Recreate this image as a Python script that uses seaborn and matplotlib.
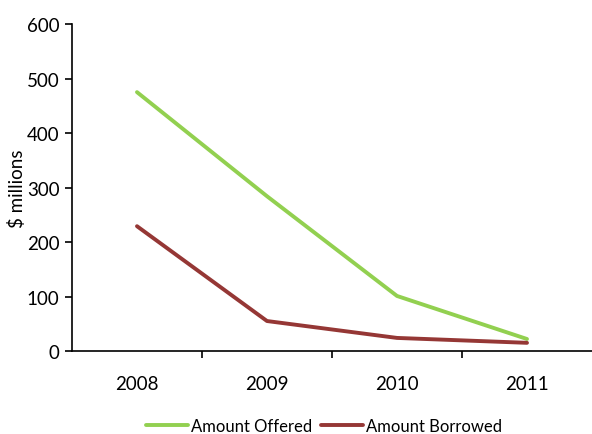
import matplotlib
matplotlib.use("Agg")
import matplotlib.pyplot as plt
import seaborn as sns
import pandas as pd
from matplotlib.ticker import FixedLocator

years = ["2008", "2009", "2010", "2011"]
amount_offered = [475, 284, 101, 22]
amount_borrowed = [229, 55, 24, 15]

sns.set_theme(style="ticks")
plt.rcParams["font.family"] = ["Lato", "DejaVu Sans"]

df = pd.DataFrame({
    "Year": years * 2,
    "Value": amount_offered + amount_borrowed,
    "Series": ["Amount Offered"] * 4 + ["Amount Borrowed"] * 4,
})

fig = plt.figure(figsize=(5.92, 4.35), dpi=100)
ax = fig.add_axes([0.1216, 0.1908, 0.8784, 0.7517])

sns.lineplot(data=df, x="Year", y="Value", hue="Series",
             palette={"Amount Offered": "#92D050", "Amount Borrowed": "#953735"},
             linewidth=2.8, ax=ax, legend=True)

ax.set_xlim(-0.5, 3.5)
ax.set_ylim(0, 600)
ax.set_yticks(range(0, 601, 100))
ax.xaxis.set_major_locator(FixedLocator([0, 1, 2, 3]))
ax.set_xticklabels(years)
ax.xaxis.set_minor_locator(FixedLocator([0.5, 1.5, 2.5]))
ax.tick_params(axis="x", which="major", length=0, pad=17, labelsize=13.5, colors="black")
ax.tick_params(axis="x", which="minor", length=5, width=1.2, direction="out", color="black")
ax.tick_params(axis="y", length=5, width=1.2, labelsize=13.5, colors="black", pad=4)
ax.set_xlabel("")
ax.set_ylabel("$ millions", fontsize=13.5, color="black")
ax.yaxis.set_label_coords(-0.088, 0.5)

for s in ["top", "right"]:
    ax.spines[s].set_visible(False)
for s in ["left", "bottom"]:
    ax.spines[s].set_color("black")
    ax.spines[s].set_linewidth(1.2)

leg = ax.legend(loc="center", bbox_to_anchor=(0.485, -0.23), ncol=2,
                frameon=False, fontsize=12, handlelength=2.5, handletextpad=0.2,
                columnspacing=0.5, borderaxespad=0.0, borderpad=0.0)
for line in leg.get_lines():
    line.set_linewidth(2.8)
for t in leg.get_texts():
    t.set_color("black")

fig.savefig("out.png", dpi=100)
